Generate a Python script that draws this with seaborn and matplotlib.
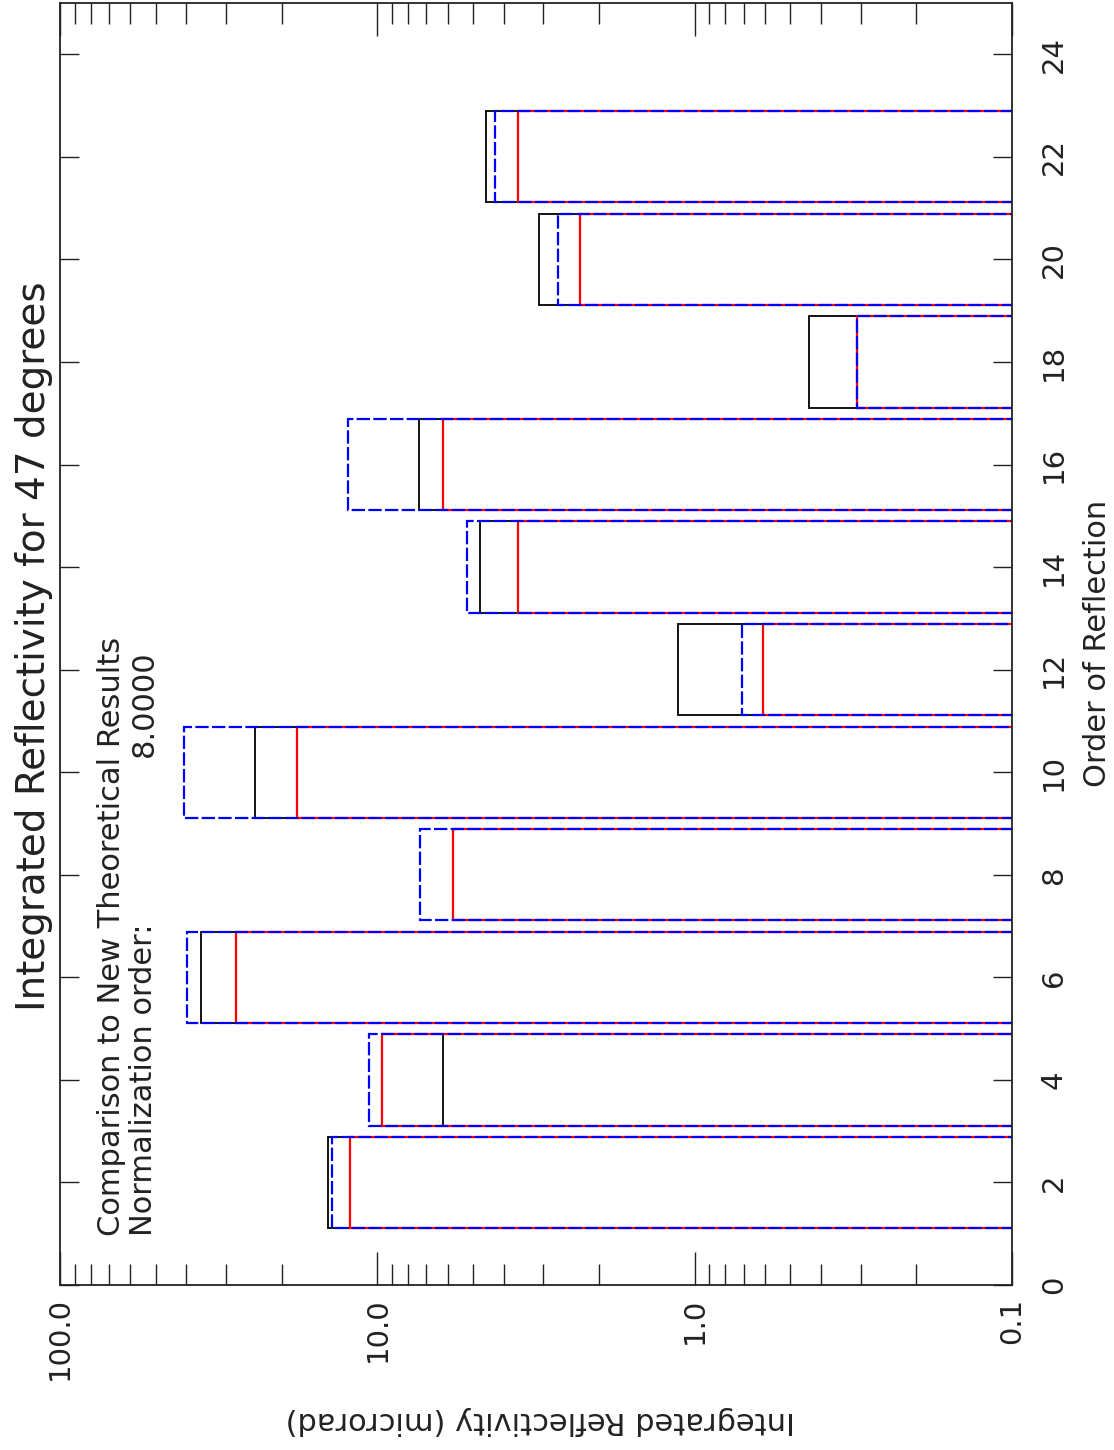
import numpy as np
import pandas as pd
import matplotlib
matplotlib.use("Agg")
import matplotlib.pyplot as plt
import seaborn as sns
from matplotlib.ticker import FixedLocator, LogLocator, NullFormatter

# Integrated reflectivity (microrad) per order of reflection
orders = [2, 4, 6, 8, 10, 12, 14, 16, 18, 20, 22]
measured = [14.3, 6.21, 35.9, 5.77, 24.3, 1.13, 4.75, 7.39, 0.436, 3.09, 4.54]
theory_old = [13.9, 10.6, 39.8, 7.34, 40.7, 0.709, 5.22, 12.4, 0.308, 2.69, 4.26]
theory_new = [12.2, 9.66, 27.9, 5.77, 17.9, 0.609, 3.60, 6.21, 0.308, 2.30, 3.60]

x_ticks = [100.0, 10.0, 1.0, 0.1]
x_ticklabels = ["100.0", "10.0", "1.0", "0.1"]
y_ticks = list(range(0, 25, 2))

df = pd.DataFrame({
    "order": orders,
    "measured": measured,
    "theory_old": theory_old,
    "theory_new": theory_new,
})

sns.set_theme(style="white")
plt.rcParams["font.family"] = ["DejaVu Sans"]
ink = "#222222"

fig = plt.figure(figsize=(11.14, 14.50), dpi=100)
ax = fig.add_axes([60 / 1114, 1 - 1285 / 1450, 952 / 1114, 1282 / 1450])
ax.set_xscale("log")

series = [
    ("measured", "black", "-", 1.3),
    ("theory_new", "red", "-", 1.6),
    ("theory_old", "blue", (0, (6, 1.5)), 1.6),
]
for col, color, ls, lw in series:
    sns.barplot(data=df, x=col, y="order", orient="y", native_scale=True,
                fill=False, color=color, saturation=1, width=0.89,
                errorbar=None, linestyle=ls, linewidth=lw, ax=ax)

ax.set_xlim(100, 0.1)
ax.set_ylim(0, 25)

# reflectivity axis (horizontal, log, decreasing to the right)
ax.xaxis.set_major_locator(FixedLocator(x_ticks))
ax.set_xticklabels(x_ticklabels)
ax.xaxis.set_minor_locator(LogLocator(base=10, subs=np.arange(2, 10)))
ax.xaxis.set_minor_formatter(NullFormatter())
ax.tick_params(axis="x", which="both", direction="in", top=True, bottom=True,
               color=ink, width=1)
ax.tick_params(axis="x", which="major", length=24, pad=9, labelsize=21,
               labelrotation=90, labelcolor=ink)
ax.tick_params(axis="x", which="minor", length=15)

# order axis (vertical, labels on the right)
ax.yaxis.tick_right()
ax.yaxis.set_major_locator(FixedLocator(y_ticks))
ax.set_yticklabels([str(t) for t in y_ticks])
ax.tick_params(axis="y", which="major", direction="in", left=True, right=True,
               labelleft=False, labelright=True, length=14, width=1,
               pad=20, labelsize=21, labelcolor=ink, color=ink)
for lab in ax.get_yticklabels():
    lab.set_rotation(90)
    lab.set_va("center")
    lab.set_ha("left")

for sp in ax.spines.values():
    sp.set_color(ink)
    sp.set_linewidth(1.3)

ax.yaxis.set_label_position("right")
ax.set_ylabel("Order of Reflection", fontsize=22, color=ink, rotation=90,
              ha="center", va="center")
ax.yaxis.set_label_coords((1097 - 60) / 952, (1285 - 643) / 1282)
ax.set_xlabel("Integrated Reflectivity (microrad)", fontsize=22, color=ink,
              rotation=180, ha="center", va="center")
ax.xaxis.set_label_coords((540 - 60) / 952, (1285 - 1421) / 1282)

fig.text(34 / 1114, 1 - 646 / 1450, "Integrated Reflectivity for 47 degrees",
         rotation=90, ha="center", va="center", fontsize=28, color=ink)
fig.text(112 / 1114, 1 - 1236 / 1450, "Comparison to New Theoretical Results",
         rotation=90, ha="center", va="bottom", fontsize=22, color=ink)
fig.text(144 / 1114, 1 - 1236 / 1450, "Normalization order:",
         rotation=90, ha="center", va="bottom", fontsize=22, color=ink)
fig.text(144 / 1114, 1 - 650 / 1450, "8.0000",
         rotation=90, ha="center", va="top", fontsize=22, color=ink)

fig.savefig("out.png", dpi=100, facecolor="white")
